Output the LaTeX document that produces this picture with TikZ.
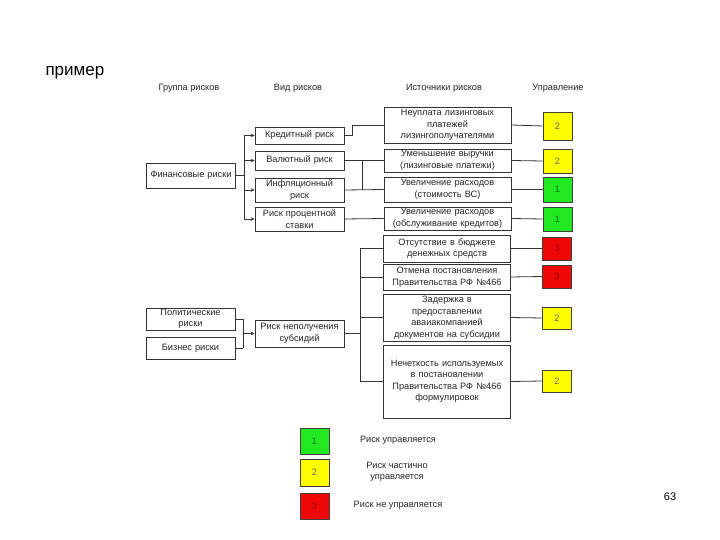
\documentclass[tikz,border=0pt]{standalone}
\usepackage{fontspec}
\setmainfont{Liberation Sans}
\usepackage{xcolor}
\usepackage{tikz}
\usetikzlibrary{arrows.meta,
calc
}
\tikzset{>={Stealth[length=4pt,width=3.5pt]}}
\definecolor{ctrlgreen}{RGB}{34,232,34}
\definecolor{ctrlyellow}{RGB}{255,255,0}
\definecolor{ctrlred}{RGB}{240,8,8}
\tikzset{
  txt/.style={font=\fontsize{9.2}{11.5}\selectfont, text=black!85},
  riskbox/.style={txt, draw=black!80, line width=0.7pt, fill=white, align=center, text width=85pt, inner xsep=2pt, inner ysep=1pt},
  srcbox/.style={riskbox, text width=123pt},
  ctrlbox/.style={txt, draw=black!75, line width=0.7pt, minimum width=29pt, minimum height=24pt, inner sep=0pt},
  link/.style={draw=black!80, line width=0.8pt}
}

\begin{document}
\begin{tikzpicture}[x=1pt, y=-1pt]
  \useasboundingbox (0,0) rectangle (720,540);

  \node[anchor=base west, font=\fontsize{17}{20}\selectfont] (title) at (42,76) {пример};
  \node[txt] (hgroup) at (189,88) {Группа рисков};
  \node[txt] (hkind) at (298,88) {Вид рисков};
  \node[txt] (hsrc) at (444,88) {Источники рисков};
  \node[txt] (hctrl) at (558,88) {Управление};

      \node[riskbox, minimum height=25pt] (fin) at (191,175.5) {Финансовые риски};
      \node[riskbox, minimum height=17pt] (kred) at (299.5,135.5) {Кредитный риск};
      \node[riskbox, minimum height=19pt] (val) at (299.5,160.5) {Валютный риск};
      \node[riskbox, minimum height=24pt] (infl) at (299.5,190) {Инфляционный\\риск};
      \node[riskbox, minimum height=24pt] (proc) at (299.5,219) {Риск процентной\\ставки};
      \node[riskbox, minimum height=22pt] (polit) at (190.5,319) {Политические\\риски};
      \node[riskbox, minimum height=22pt] (biz) at (190.5,348) {Бизнес риски};
      \node[riskbox, minimum height=27pt] (subs) at (299.5,333.5) {Риск неполучения\\субсидий};

      \node[srcbox, minimum height=36pt] (src1) at (447.5,125) {Неуплата лизинговых\\платежей\\лизингополучателями};
      \node[srcbox, minimum height=23pt] (src2) at (447.5,160.5) {Уменьшение выручки\\(лизинговые платежи)};
      \node[srcbox, minimum height=25pt] (src3) at (447.5,189.5) {Увеличение расходов\\(стоимость ВС)};
      \node[srcbox, minimum height=23pt] (src4) at (447.5,218.5) {Увеличение расходов\\(обслуживание кредитов)};
      \node[srcbox, minimum height=27pt] (src5) at (447,248.5) {Отсутствие в бюджете\\денежных средств};
      \node[srcbox, minimum height=26pt] (src6) at (447,277) {Отмена постановления\\Правительства РФ №466};
      \node[srcbox, minimum height=47pt] (src7) at (447,317.5) {Задержка в\\предоставлении\\аваиакомпанией\\документов на субсидии};
      \node[srcbox, minimum height=73pt] (src8) at (447,381.5) {Нечеткость используемых\\в постановлении\\Правительства РФ №466\\формулировок};

      \node[ctrlbox, fill=ctrlyellow, minimum height=28pt, text=black!60] (sq1) at (557.5,126) {2};
      \node[ctrlbox, fill=ctrlyellow, text=black!60] (sq2) at (557.5,161) {2};
      \node[ctrlbox, fill=ctrlgreen, minimum height=25pt, text=green!45!black] (sq3) at (557.5,189.5) {1};
      \node[ctrlbox, fill=ctrlgreen, text=green!45!black] (sq4) at (557.5,219) {1};
      \node[ctrlbox, fill=ctrlred, minimum height=23pt, text=red!60!black] (sq5) at (557,248.5) {3};
      \node[ctrlbox, fill=ctrlred, minimum height=23pt, text=red!60!black] (sq6) at (557,276.5) {3};
      \node[ctrlbox, fill=ctrlyellow, minimum height=22pt, text=black!60] (sq7) at (557,318) {2};
      \node[ctrlbox, fill=ctrlyellow, minimum height=22pt, text=black!60] (sq8) at (557,381) {2};

      \node[ctrlbox, fill=ctrlgreen, minimum height=26pt, text=green!45!black] (key1) at (314.5,441) {1};
      \node[ctrlbox, fill=ctrlyellow, minimum height=27pt, text=black!60] (key2) at (314.5,472.5) {2};
      \node[ctrlbox, fill=ctrlred, minimum height=26pt, text=red!60!black] (key3) at (314.5,506) {3};
      \node[txt] (keytxt1) at (398,440) {Риск управляется};
      \node[txt, align=center] (keytxt2) at (397,472) {Риск частично\\управляется};
      \node[txt] (keytxt3) at (398,505) {Риск не управляется};

  \node[font=\fontsize{11}{13}\selectfont] (page) at (670,497) {63};

  % financial risks
  \coordinate (fbus) at (244,0);
      \draw[link] (fin.east) to (fin.east -| fbus);
      \draw[link] (fbus |- kred.west) to (fbus |- proc.west);
      \draw[link, ->] (fbus |- kred.west) to (kred.west);
      \draw[link, ->] (fbus |- val.west) to (val.west);
      \draw[link, ->] (fbus |- infl.west) to (infl.west);
      \draw[link, ->] (fbus |- proc.west) to (proc.west);

  \coordinate (kbend) at (352,0);
  \coordinate (vbus) at (362,0);
      \draw[link] (kred.east) -- (kred.east -| kbend) |- (src1.west);
      \draw[link] (val.east) to (src2.west);
      \draw[link] (infl.east) to (src3.west);
      \draw[link] (vbus |- val.east) to (vbus |- infl.east);
      \draw[link] (proc.east) to (src4.west);

  % subsidies
  \coordinate (pbus) at (243,0);
  \coordinate (sbus) at (360,0);
      \draw[link] (polit.east) to (polit.east -| pbus);
      \draw[link] (biz.east) to (biz.east -| pbus);
      \draw[link] (polit.east -| pbus) to (biz.east -| pbus);
      \draw[link, ->] (pbus |- subs.west) to (subs.west);
      \draw[link] (subs.east) to (subs.east -| sbus);
      \draw[link] (sbus |- src5.west) to (sbus |- src8.west);
      \draw[link] (sbus |- src5.west) to (src5.west);
      \draw[link] (sbus |- src6.west) to (src6.west);
      \draw[link] (sbus |- src7.west) to (src7.west);
      \draw[link] (sbus |- src8.west) to (src8.west);

      \draw[link] (src1.east) to (sq1.west);
      \draw[link] (src2.east) to (sq2.west);
      \draw[link] (src3.east) to (sq3.west);
      \draw[link] (src4.east) to (sq4.west);
      \draw[link] (src5.east) to (sq5.west);
      \draw[link] (src6.east) to (sq6.west);
      \draw[link] (src7.east) to (sq7.west);
      \draw[link] (src8.east) to (sq8.west);
  \end{tikzpicture}
\end{document}
